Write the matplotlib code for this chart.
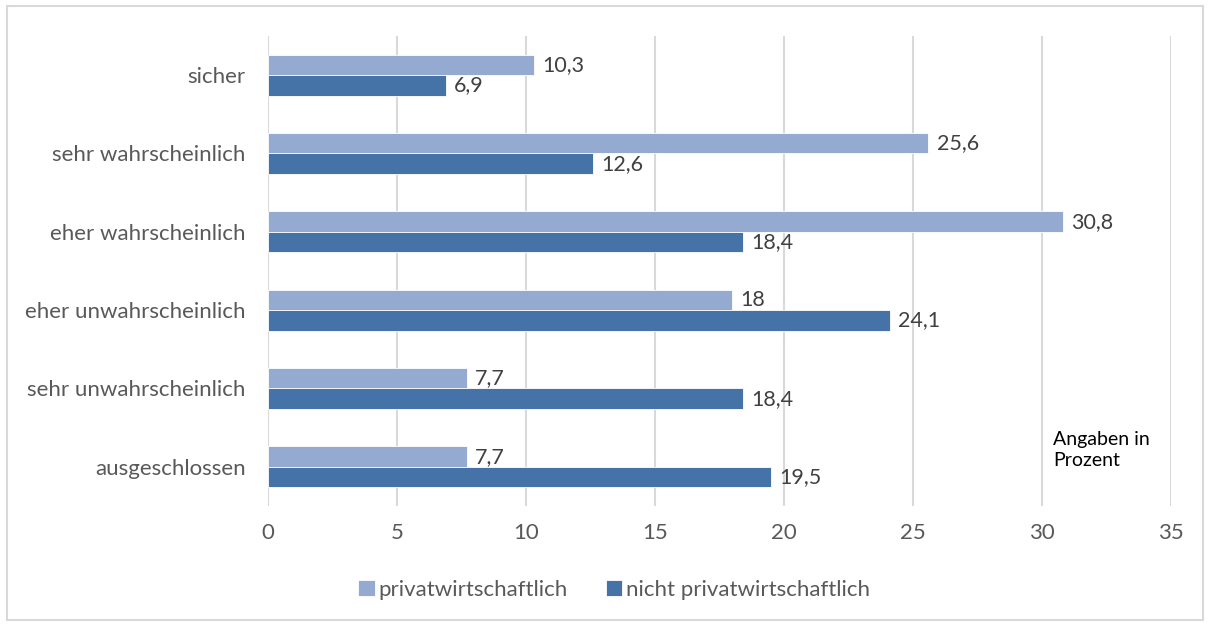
import matplotlib.pyplot as plt
import numpy as np

# Antworten und Anteile in Prozent
categories = ["sicher", "sehr wahrscheinlich", "eher wahrscheinlich",
              "eher unwahrscheinlich", "sehr unwahrscheinlich", "ausgeschlossen"]
privat = [10.3, 25.6, 30.8, 18, 7.7, 7.7]
nicht_privat = [6.9, 12.6, 18.4, 24.1, 18.4, 19.5]
labels_privat = ["10,3", "25,6", "30,8", "18", "7,7", "7,7"]
labels_nicht = ["6,9", "12,6", "18,4", "24,1", "18,4", "19,5"]

light = "#95aad1"
dark = "#4573a7"
grey = "#595959"

plt.rcParams['font.family'] = ['Lato', 'DejaVu Sans']

fig = plt.figure(figsize=(12.08, 6.26), dpi=100)
ax = fig.add_axes([268 / 1208, 1 - 506 / 626, (1171 - 268) / 1208, (506 - 36) / 626])

# frame around the whole chart
fig.patches.append(plt.Rectangle((7 / 1208, 6 / 626), 1196 / 1208, 614 / 626,
                                 transform=fig.transFigure, fill=False,
                                 edgecolor="#d9d9d9", linewidth=1.5))

y = np.arange(len(categories))
h = 0.26
b1 = ax.barh(y - h / 2, privat, height=h, color=light, edgecolor="white",
             linewidth=0.6, label="privatwirtschaftlich", zorder=3)
b2 = ax.barh(y + h / 2, nicht_privat, height=h, color=dark, edgecolor="white",
             linewidth=0.6, label="nicht privatwirtschaftlich", zorder=3)

for bars, labs in ((b1, labels_privat), (b2, labels_nicht)):
    for bar, lab in zip(bars, labs):
        ax.annotate(lab, (bar.get_width(), bar.get_y() + bar.get_height() / 2),
                    xytext=(6, 0), textcoords="offset points", va="center",
                    ha="left", fontsize=15.5, color="#404040")

ax.set_xlim(0, 35)
ax.set_ylim(len(categories) - 0.5, -0.5)
ax.set_xticks(range(0, 36, 5))
ax.set_yticks(y)
ax.set_yticklabels(categories)
ax.tick_params(axis="both", length=0, labelsize=16, colors=grey)
ax.tick_params(axis="x", pad=12)
ax.tick_params(axis="y", pad=16)
ax.grid(axis="x", color="#d9d9d9", linewidth=1.5, zorder=0)
for s in ax.spines.values():
    s.set_visible(False)

fig.text(1053 / 1208, 1 - 450 / 626, "Angaben in\nProzent", fontsize=14,
         color="black", va="center", ha="left", linespacing=1.35)

fig.legend(handles=[b1, b2], loc="center", bbox_to_anchor=(614 / 1208, 1 - 590 / 626),
           ncol=2, frameon=False, fontsize=16, labelcolor=grey,
           handlelength=0.75, handleheight=0.75, handletextpad=0.15, columnspacing=1.7)

fig.savefig("out.png", dpi=100)
